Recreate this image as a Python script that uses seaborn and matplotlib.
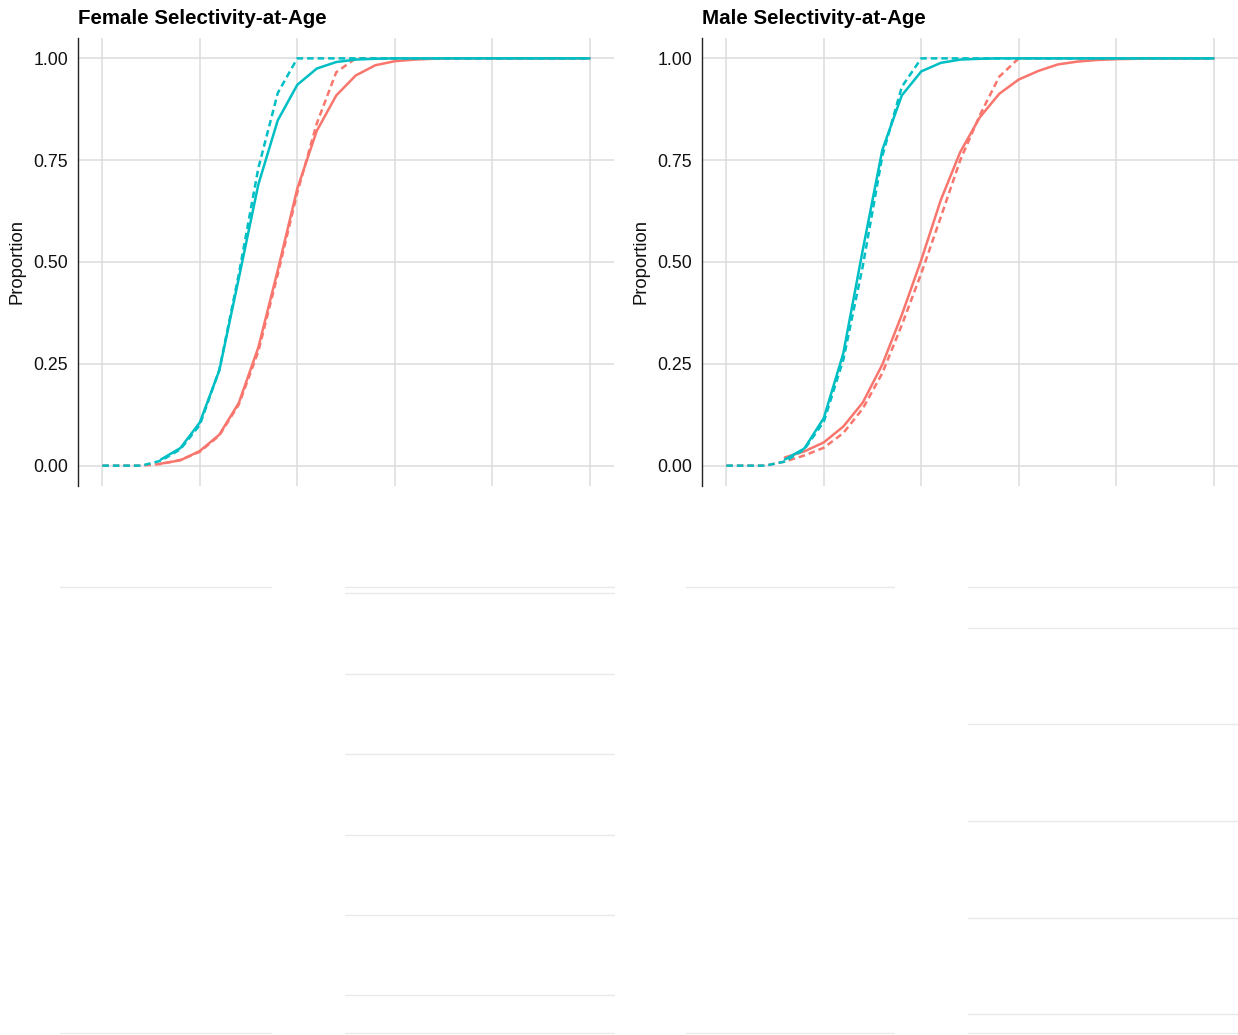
import numpy as np
import pandas as pd
import matplotlib
matplotlib.use("Agg")
import matplotlib.pyplot as plt
import seaborn as sns

sns.set_style("white")
plt.rcParams["font.family"] = ["Liberation Sans", "DejaVu Sans"]

# ---- selectivity-at-age values ----
ages_all = list(range(0, 26))      # ages used by the dashed curves
ages_fit = list(range(3, 26))      # ages used by the solid curves

female_solid_red = [0.005, 0.013, 0.036, 0.076, 0.154, 0.29, 0.48, 0.68, 0.822, 0.909,
                    0.958, 0.983, 0.993, 0.997, 0.999, 1, 1, 1, 1, 1, 1, 1, 1]
female_solid_teal = [0.015, 0.043, 0.106, 0.234, 0.46, 0.69, 0.848, 0.935, 0.975, 0.991,
                     0.997, 0.999, 1, 1, 1, 1, 1, 1, 1, 1, 1, 1, 1]
female_dashed_red = [0, 0, 0, 0.004, 0.014, 0.034, 0.074, 0.15, 0.28, 0.47, 0.67, 0.84, 0.966,
                     1, 1, 1, 1, 1, 1, 1, 1, 1, 1, 1, 1, 1]
female_dashed_teal = [0, 0, 0, 0.012, 0.04, 0.10, 0.235, 0.47, 0.73, 0.915,
                      1, 1, 1, 1, 1, 1, 1, 1, 1, 1, 1, 1, 1, 1, 1, 1]

male_solid_red = [0.02, 0.035, 0.057, 0.096, 0.155, 0.248, 0.37, 0.505, 0.652, 0.77,
                  0.855, 0.913, 0.948, 0.969, 0.985, 0.992, 0.996, 0.998, 0.999, 1, 1, 1, 1]
male_solid_teal = [0.015, 0.042, 0.117, 0.276, 0.53, 0.775, 0.909, 0.968, 0.989, 0.997,
                   0.999, 1, 1, 1, 1, 1, 1, 1, 1, 1, 1, 1, 1]
male_dashed_red = [0, 0, 0, 0.01, 0.025, 0.044, 0.08, 0.14, 0.227, 0.345, 0.472, 0.61, 0.75,
                   0.86, 0.955, 1, 1, 1, 1, 1, 1, 1, 1, 1, 1, 1]
male_dashed_teal = [0, 0, 0, 0.01, 0.04, 0.108, 0.26, 0.49, 0.76, 0.93,
                    1, 1, 1, 1, 1, 1, 1, 1, 1, 1, 1, 1, 1, 1, 1, 1]

panel_titles = ["Female Selectivity-at-Age", "Male Selectivity-at-Age"]
y_ticks = [0.0, 0.25, 0.50, 0.75, 1.00]
y_tick_labels = ["0.00", "0.25", "0.50", "0.75", "1.00"]
x_grid = [0, 5, 10, 15, 20, 25]

fleets = ["Fishery", "Survey"]
fits = ["Estimated", "Fixed"]
palette = {"Fishery": "#F8766D", "Survey": "#00BFC4"}
dashes = {"Estimated": "", "Fixed": (2.6, 1.6)}


def long_table(solid_red, solid_teal, dashed_red, dashed_teal):
    parts = []
    for fleet, fit, ages, vals in [
        ("Fishery", "Estimated", ages_fit, solid_red),
        ("Fishery", "Fixed", ages_all, dashed_red),
        ("Survey", "Estimated", ages_fit, solid_teal),
        ("Survey", "Fixed", ages_all, dashed_teal),
    ]:
        parts.append(pd.DataFrame({"Age": ages, "Proportion": vals,
                                   "fleet": fleet, "fit": fit}))
    return pd.concat(parts, ignore_index=True)


tables = [
    long_table(female_solid_red, female_solid_teal, female_dashed_red, female_dashed_teal),
    long_table(male_solid_red, male_solid_teal, male_dashed_red, male_dashed_teal),
]

W, H = 1238, 1035
fig = plt.figure(figsize=(W / 100, H / 100), dpi=100)


def px_axes(x0, y0, x1, y1):
    return fig.add_axes([x0 / W, 1 - y1 / H, (x1 - x0) / W, (y1 - y0) / H])


panel_boxes = [(78, 38, 614, 486), (702, 38, 1238, 486)]

for box, title, df in zip(panel_boxes, panel_titles, tables):
    ax = px_axes(*box)
    sns.lineplot(data=df, x="Age", y="Proportion", hue="fleet", style="fit",
                 hue_order=fleets, style_order=fits, palette=palette, dashes=dashes,
                 estimator=None, sort=True, legend=False, linewidth=1.8, ax=ax)
    ax.set_xlim(-1.25, 26.25)
    ax.set_ylim(-0.05, 1.05)
    ax.set_xticks(x_grid)
    ax.set_xticklabels([])
    ax.tick_params(axis="x", length=0)
    ax.set_yticks(y_ticks)
    ax.set_yticklabels(y_tick_labels, fontsize=12.8, color="#111111")
    ax.tick_params(axis="y", length=4, width=0.9, color="#333333", pad=3)
    ax.grid(True, color="#dcdcdc", linewidth=1.1)
    ax.set_axisbelow(True)
    for side in ["top", "right", "bottom"]:
        ax.spines[side].set_visible(False)
    ax.spines["left"].set_color("#222222")
    ax.spines["left"].set_linewidth(1.0)
    ax.set_xlabel("")
    ax.set_ylabel("Proportion", fontsize=13.3, color="#111111", labelpad=6)
    ax.set_title(title, loc="left", fontsize=14.8, fontweight="bold",
                 color="#000000", pad=10)

# faded lower row of panels: only their horizontal grid lines remain
lower_panels = [
    ((60, 586, 272, 1034), [0.0, 1.0]),
    ((345, 586, 615, 1034), [0.0, 0.085, 0.265, 0.445, 0.625, 0.805, 0.986, 1.0]),
    ((686, 586, 895, 1034), [0.0, 1.0]),
    ((968, 586, 1238, 1034), [0.0, 0.042, 0.259, 0.475, 0.692, 0.908, 1.0]),
]
for box, levels in lower_panels:
    ax = px_axes(*box)
    ax.set_xlim(0, 1)
    ax.set_ylim(-0.002, 1.002)
    ax.set_xticks([])
    ax.set_yticks(levels)
    ax.set_yticklabels([])
    ax.tick_params(length=0)
    ax.grid(True, axis="y", color="#e9e9e9", linewidth=1.0)
    for side in ax.spines.values():
        side.set_visible(False)
    ax.patch.set_alpha(0)

fig.savefig("out.png", dpi=100)
